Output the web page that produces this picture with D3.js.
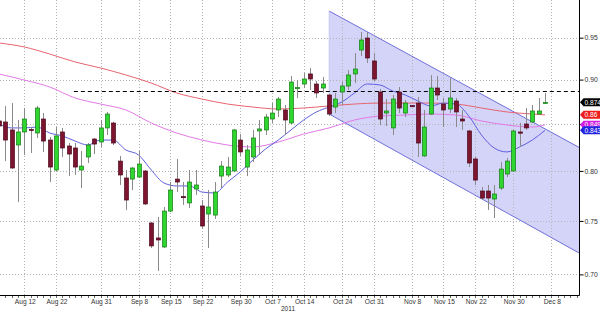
<!DOCTYPE html>
<html>
<head>
<meta charset="utf-8">
<script src="https://d3js.org/d3.v7.min.js"></script>
<style>
body { margin: 0; background: #fff; }
svg { display: block; }
text { font-family: "Liberation Sans", Arial, sans-serif; }
</style>
</head>
<body>
<div id="chart"></div>
<script>
//size
var chart_width = 600;
var chart_height = 313;
var plot_right = 579;
var plot_bottom = 295;

// daily candles (index 0 = partial candle at the left edge, 86 = last one)
var opens  = [0.8532,0.8521,0.8434,0.8272,0.8412,0.8440,0.8401,0.8554,0.8325,0.8009,
              0.8412,0.8261,0.8240,0.8009,0.8145,0.8336,0.8304,0.8456,0.8510,0.8102,
              0.7927,0.7916,0.7937,0.7999,0.7480,0.7337,0.7252,0.7596,0.7916,0.7740,
              0.7676,0.7815,0.7646,0.7567,0.7557,0.7947,0.7958,0.7999,0.8325,0.8040,
              0.8145,0.8423,0.8434,0.8554,0.8654,0.8654,0.8510,0.8897,0.8949,0.9066,
              0.8949,0.8903,0.8823,0.8687,0.8857,0.8926,0.9066,0.9350,0.9496,0.9219,
              0.8857,0.8620,0.8456,0.8857,0.8620,0.8704,0.8732,0.8156,0.8609,0.8903,
              0.8721,0.8665,0.8755,0.8554,0.8423,0.8124,0.7795,0.7795,0.7715,0.7825,
              0.7968,0.7999,0.8412,0.8499,0.8521,0.8609,0.8735];
var highs  = [0.8565,0.8699,0.8732,0.8543,0.8676,0.8466,0.8699,0.8620,0.8358,0.8466,
              0.8456,0.8293,0.8293,0.8208,0.8293,0.8347,0.8543,0.8632,0.8521,0.8156,
              0.8009,0.8040,0.8208,0.8009,0.7490,0.7538,0.7636,0.7886,0.8124,0.7886,
              0.8009,0.8009,0.7705,0.7805,0.7886,0.8102,0.8145,0.8445,0.8390,0.8272,
              0.8434,0.8543,0.8609,0.8732,0.8800,0.8710,0.9042,0.8995,0.9077,0.9136,
              0.8984,0.9031,0.8835,0.8846,0.8972,0.9112,0.9314,0.9570,0.9570,0.9314,
              0.8892,0.8777,0.8823,0.8915,0.8766,0.8710,0.8800,0.8654,0.9054,0.9042,
              0.8789,0.9019,0.8789,0.8654,0.8434,0.8145,0.7835,0.7856,0.7856,0.8092,
              0.8134,0.8434,0.8510,0.8676,0.8710,0.8789,0.8846];
var lows   = [0.8456,0.8102,0.8020,0.7685,0.8166,0.8187,0.8347,0.8198,0.7886,0.7999,
              0.8145,0.7947,0.7958,0.7825,0.8082,0.8176,0.8251,0.8379,0.8272,0.7856,
              0.7606,0.7805,0.7927,0.7656,0.7243,0.7031,0.7243,0.7586,0.7785,0.7656,
              0.7626,0.7755,0.7423,0.7243,0.7519,0.7825,0.7937,0.7989,0.8156,0.7947,
              0.8092,0.8166,0.8379,0.8510,0.8576,0.8379,0.8499,0.8789,0.8903,0.8880,
              0.8789,0.8846,0.8587,0.8620,0.8710,0.8880,0.8960,0.9278,0.9195,0.8984,
              0.8488,0.8477,0.8379,0.8620,0.8576,0.8687,0.8145,0.8145,0.8598,0.8766,
              0.8466,0.8620,0.8466,0.8434,0.8040,0.7856,0.7705,0.7606,0.7528,0.7805,
              0.7937,0.7989,0.8251,0.8434,0.8510,0.8598,0.8732];
var closes = [0.8477,0.8325,0.8030,0.8412,0.8554,0.8428,0.8676,0.8314,0.8040,0.8369,
              0.8240,0.8176,0.8040,0.8050,0.8272,0.8282,0.8456,0.8609,0.8293,0.7958,
              0.7705,0.8030,0.8071,0.7666,0.7262,0.7318,0.7596,0.7805,0.7886,0.7730,
              0.7886,0.7856,0.7451,0.7636,0.7785,0.8050,0.8040,0.8434,0.8198,0.8219,
              0.8347,0.8445,0.8576,0.8620,0.8777,0.8543,0.8972,0.8909,0.9007,0.9007,
              0.8846,0.8949,0.8609,0.8777,0.8926,0.9054,0.9124,0.9472,0.9255,0.9007,
              0.8554,0.8643,0.8777,0.8676,0.8732,0.8693,0.8293,0.8466,0.8903,0.8823,
              0.8654,0.8789,0.8632,0.8532,0.8082,0.7906,0.7725,0.7725,0.7765,0.8019,
              0.8102,0.8423,0.8401,0.8456,0.8643,0.8643,0.8740];

// moving averages
var blueIdx  = d3.range(0, 87, 2);
var blueVals = [0.8499,0.8456,0.8456,0.8466,0.8401,0.8369,0.8314,0.8272,0.8325,0.8325,
                0.8219,0.8166,0.8009,0.7876,0.7846,0.7846,0.7785,0.7775,0.7886,0.7989,
                0.8113,0.8230,0.8325,0.8434,0.8543,0.8632,0.8687,0.8744,0.8846,0.8949,
                0.8938,0.8869,0.8823,0.8755,0.8699,0.8732,0.8721,0.8587,0.8379,0.8240,
                0.8198,0.8251,0.8325,0.8430];
var slowIdx  = [0,4,8,12,16,20,24,28,32,36,40,44,48,52,56,60,64,68,72,76,80,84,86];
var redVals  = [0.9436,0.9387,0.9302,0.9207,0.9136,0.9054,0.8960,0.8846,0.8777,0.8721,
                0.8687,0.8665,0.8676,0.8699,0.8721,0.8732,0.8732,0.8732,0.8721,0.8676,
                0.8632,0.8609,0.8600];
var magVals  = [0.9066,0.8995,0.8915,0.8789,0.8721,0.8654,0.8510,0.8401,0.8325,0.8272,
                0.8251,0.8304,0.8390,0.8456,0.8543,0.8587,0.8598,0.8609,0.8598,0.8532,
                0.8488,0.8466,0.8490];

// trend channel and resistance level
var chanIdx = [52, 91.4];
var chanTop = [0.9833, 0.8245];
var chanBot = [0.8609, 0.7195];
var dashLevel = 0.887;
var dashStart = 11.8;

// axes
var yTicks = [0.70, 0.75, 0.80, 0.85, 0.90, 0.95];
var xTickIdx = [4, 9, 16, 22, 27, 32, 38, 43, 48, 54, 59, 65, 70, 75, 81, 87];
var xTickLabels = ['Aug 12','Aug 22','Aug 31','Sep 8','Sep 15','Sep 22','Sep 30','Oct 7',
                   'Oct 14','Oct 24','Oct 31','Nov 8','Nov 15','Nov 22','Nov 30','Dec 8'];

//scales
var x = d3.scaleLinear().domain([0, 86]).range([-1.1, 545]);
var y = d3.scaleLog().domain([0.70, 0.95]).range([274.4, 37.7]);

var svg = d3.select('#chart')
            .append('svg')
            .attr('width', chart_width)
            .attr('height', chart_height);

svg.append('clipPath').attr('id', 'plot')
   .append('rect').attr('x', 0).attr('y', 0)
   .attr('width', plot_right).attr('height', plot_bottom);

var g = svg.append('g').attr('clip-path', 'url(#plot)');

// channel
var chanPoly = [
    [x(chanIdx[0]), y(chanTop[0])], [x(chanIdx[1]), y(chanTop[1])],
    [x(chanIdx[1]), y(chanBot[1])], [x(chanIdx[0]), y(chanBot[0])]
];
g.append('path')
 .attr('d', 'M' + chanPoly.join('L') + 'Z')
 .attr('fill', 'rgb(212,212,248)')
 .attr('stroke', 'none');

// grid
g.selectAll('.hgrid').data(yTicks).enter().append('line')
 .attr('x1', 0).attr('x2', plot_right)
 .attr('y1', function(d){ return Math.round(y(d)) + 0.5; })
 .attr('y2', function(d){ return Math.round(y(d)) + 0.5; })
 .attr('stroke', '#b4b4b4').attr('stroke-dasharray', '1,2');
g.selectAll('.vgrid').data(xTickIdx).enter().append('line')
 .attr('x1', function(d){ return Math.round(x(d)) + 0.5; })
 .attr('x2', function(d){ return Math.round(x(d)) + 0.5; })
 .attr('y1', 0).attr('y2', plot_bottom)
 .attr('stroke', '#b4b4b4').attr('stroke-dasharray', '1,2');

// channel borders
[chanTop, chanBot].forEach(function(c){
    g.append('line')
     .attr('x1', x(chanIdx[0])).attr('y1', y(c[0]))
     .attr('x2', x(chanIdx[1])).attr('y2', y(c[1]))
     .attr('stroke', '#6f6fdc').attr('stroke-width', 1);
});
g.append('line')
 .attr('x1', x(chanIdx[0])).attr('y1', y(chanTop[0]))
 .attr('x2', x(chanIdx[0])).attr('y2', y(chanBot[0]))
 .attr('stroke', '#b8b8f0').attr('stroke-width', 0.6);

// moving averages
function maLine(idx, vals, color){
    var line = d3.line()
        .x(function(d, i){ return x(idx[i]); })
        .y(function(d){ return y(d); })
        .curve(d3.curveMonotoneX);
    g.append('path')
     .attr('d', line(vals))
     .attr('fill', 'none')
     .attr('stroke', color)
     .attr('stroke-width', 1);
}
maLine(slowIdx, redVals, '#e8646e');
maLine(slowIdx, magVals, '#e27ae6');
maLine(blueIdx, blueVals, '#5f5fe0');

// dashed level
g.append('line')
 .attr('x1', x(dashStart)).attr('x2', plot_right)
 .attr('y1', Math.round(y(dashLevel)) + 0.5).attr('y2', Math.round(y(dashLevel)) + 0.5)
 .attr('stroke', '#000').attr('stroke-width', 1.2)
 .attr('stroke-dasharray', '4,3');

// candles
var idx = d3.range(opens.length);
var candles = g.selectAll('.candle').data(idx).enter().append('g');
candles.append('line')
    .attr('x1', function(i){ return Math.round(x(i)) + 0.5; })
    .attr('x2', function(i){ return Math.round(x(i)) + 0.5; })
    .attr('y1', function(i){ return y(highs[i]); })
    .attr('y2', function(i){ return y(lows[i]); })
    .attr('stroke', '#8a8a8a').attr('stroke-width', 1);
candles.append('rect')
    .attr('x', function(i){ return Math.round(x(i)) - 1.5; })
    .attr('width', 4)
    .attr('y', function(i){ return y(Math.max(opens[i], closes[i])); })
    .attr('height', function(i){
        return Math.max(1.2, y(Math.min(opens[i], closes[i])) - y(Math.max(opens[i], closes[i])));
    })
    .attr('fill', function(i){ return closes[i] >= opens[i] ? '#2fd62f' : '#7d1430'; })
    .attr('stroke', function(i){ return closes[i] >= opens[i] ? '#137a13' : '#4a0a1c'; })
    .attr('stroke-width', 0.7);

// bottom axis
svg.append('line')
   .attr('x1', 0).attr('x2', plot_right + 0.5)
   .attr('y1', plot_bottom + 0.5).attr('y2', plot_bottom + 0.5)
   .attr('stroke', '#000');
svg.selectAll('.minor').data(d3.range(0, 92)).enter().append('line')
   .attr('x1', function(d){ return Math.round(x(d)) + 0.5; })
   .attr('x2', function(d){ return Math.round(x(d)) + 0.5; })
   .attr('y1', plot_bottom + 1).attr('y2', plot_bottom + 3)
   .attr('stroke', '#444').attr('stroke-width', 0.8);
svg.selectAll('.xlab').data(xTickIdx).enter().append('text')
   .attr('x', function(d){ return x(d) + 1; })
   .attr('y', 304)
   .attr('text-anchor', 'middle')
   .attr('font-size', '6.6px')
   .attr('fill', '#333')
   .text(function(d, i){ return xTickLabels[i]; });
svg.append('text')
   .attr('x', 288).attr('y', 311)
   .attr('text-anchor', 'middle')
   .attr('font-size', '6.6px')
   .attr('fill', '#333')
   .text('2011');

// right axis
svg.append('line')
   .attr('x1', plot_right + 0.5).attr('x2', plot_right + 0.5)
   .attr('y1', 0).attr('y2', plot_bottom + 0.5)
   .attr('stroke', '#000');
var yAxis = d3.axisRight(y)
    .tickValues(yTicks)
    .tickSize(4)
    .tickFormat(d3.format('.2f'));
var ya = svg.append('g')
    .attr('transform', 'translate(' + (plot_right + 0.5) + ',0)')
    .call(yAxis);
ya.select('.domain').remove();
ya.selectAll('text').attr('font-size', '6.8px').attr('fill', '#333')
  .attr('font-family', '"Liberation Sans", Arial, sans-serif').attr('x', 5);

// value tags on the right
var tagVals   = [closes[closes.length - 1], redVals[redVals.length - 1],
                 magVals[magVals.length - 1], blueVals[blueVals.length - 1]];
var tagColors = ['#000000', '#ee1c1c', '#d21ee0', '#2222e0'];
tagVals.forEach(function(v, i){
    var ty = y(v);
    var tg = svg.append('g');
    tg.append('path')
      .attr('d', 'M' + [[580, ty], [583.5, ty - 4], [600, ty - 4], [600, ty + 4], [583.5, ty + 4]].join('L') + 'Z')
      .attr('fill', tagColors[i]);
    tg.append('text')
      .attr('x', 584.5).attr('y', ty + 2.4)
      .attr('font-size', '6.6px')
      .attr('fill', '#fff')
      .text(String(+v.toFixed(3)));
});
</script>
</body>
</html>
